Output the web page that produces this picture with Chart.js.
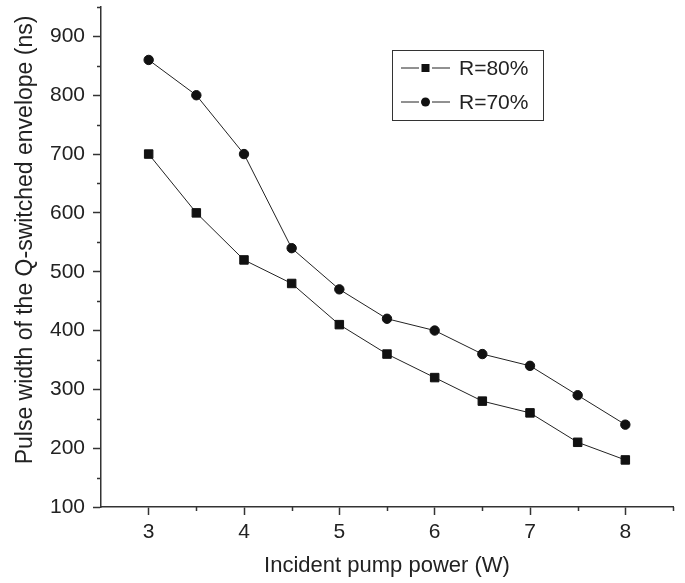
<!DOCTYPE html>
<html><head><meta charset="utf-8">
<script src="https://cdn.jsdelivr.net/npm/chart.js@4"></script>
<style>html,body{margin:0;padding:0;background:#fff}#wrap{width:685px;height:583px;position:relative}</style>
</head><body><div id="wrap"><canvas id="c" width="685" height="583"></canvas></div>
<script>
const pumpPower = [3, 3.5, 4, 4.5, 5, 5.5, 6, 6.5, 7, 7.5, 8];
const r80 = [700, 600, 520, 480, 410, 360, 320, 280, 260, 210, 180];
const r70 = [860, 800, 700, 540, 470, 420, 400, 360, 340, 290, 240];
const seriesLabels = ['R=80%', 'R=70%'];
const xTitle = 'Incident pump power (W)';
const yTitle = 'Pulse width of the Q-switched envelope (ns)';

const FONT = '"Liberation Sans", Arial, sans-serif';
const INK = '#222';

const minorTicks = {
  id: 'minorTicks',
  afterDraw(chart) {
    const ctx = chart.ctx, x = chart.scales.x, y = chart.scales.y;
    ctx.save();
    ctx.strokeStyle = '#333'; ctx.lineWidth = 1.5;
    for (let v = 3.5; v <= 8.5; v += 1) {
      const px = Math.round(x.getPixelForValue(v)) + 0.5;
      ctx.beginPath(); ctx.moveTo(px, y.bottom); ctx.lineTo(px, y.bottom + 4); ctx.stroke();
    }
    for (let v = 150; v <= 950; v += 100) {
      const py = Math.round(y.getPixelForValue(v)) + 0.5;
      ctx.beginPath(); ctx.moveTo(x.left, py); ctx.lineTo(x.left - 4, py); ctx.stroke();
    }
    ctx.restore();
  }
};

const yTitlePlugin = {
  id: 'yTitlePlugin',
  afterDraw(chart) {
    const ctx = chart.ctx;
    ctx.save();
    ctx.translate(26, 240);
    ctx.rotate(-Math.PI / 2);
    ctx.fillStyle = INK; ctx.font = '23px ' + FONT;
    ctx.textAlign = 'center'; ctx.textBaseline = 'middle';
    ctx.fillText(yTitle, 0, 0);
    ctx.restore();
  }
};

const legendBox = {
  id: 'legendBox',
  afterDraw(chart) {
    const ctx = chart.ctx;
    ctx.save();
    ctx.strokeStyle = '#333'; ctx.lineWidth = 1;
    ctx.strokeRect(392.5, 50.5, 151, 70);
    const rows = [68, 102];
    chart.data.datasets.forEach((ds, i) => {
      const yy = rows[i];
      ctx.strokeStyle = INK; ctx.lineWidth = 1;
      ctx.beginPath(); ctx.moveTo(401, yy); ctx.lineTo(419, yy); ctx.moveTo(432, yy); ctx.lineTo(450, yy); ctx.stroke();
      ctx.fillStyle = '#111';
      if (ds.pointStyle === 'rect') { ctx.fillRect(421.5, yy - 4, 8, 8); }
      else { ctx.beginPath(); ctx.arc(425.5, yy, 4.5, 0, Math.PI * 2); ctx.fill(); }
      ctx.fillStyle = INK; ctx.font = '21px ' + FONT; ctx.textBaseline = 'middle'; ctx.textAlign = 'left';
      ctx.fillText(ds.label, 459, yy + 1);
    });
    ctx.restore();
  }
};

new Chart(document.getElementById('c'), {
  type: 'line',
  data: {
    datasets: [
      { label: seriesLabels[0], data: pumpPower.map((p, i) => ({x: p, y: r80[i]})), pointStyle: 'rect', pointRadius: 6, borderColor: INK, backgroundColor: '#111', pointBorderColor: '#111', borderWidth: 1, tension: 0 },
      { label: seriesLabels[1], data: pumpPower.map((p, i) => ({x: p, y: r70[i]})), pointStyle: 'circle', pointRadius: 4.7, borderColor: INK, backgroundColor: '#111', pointBorderColor: '#111', borderWidth: 1, tension: 0 }
    ]
  },
  options: {
    responsive: false, animation: false, devicePixelRatio: 1,
    layout: { padding: { top: 5, right: 12, left: 0, bottom: 0 } },
    plugins: { legend: { display: false }, tooltip: { enabled: false } },
    scales: {
      x: {
        type: 'linear', min: 2.5, max: 8.5,
        afterBuildTicks(s) { s.ticks = [3,4,5,6,7,8].map(v => ({value: v})); },
        afterFit(s) { s.height = 76; s.paddingLeft = 0; s.paddingRight = 0; },
        grid: { drawOnChartArea: false, drawTicks: true, tickLength: 8, tickColor: '#333', tickWidth: 1.5 },
        border: { color: '#333', width: 1.5 },
        ticks: { color: INK, font: { family: FONT, size: 21 }, padding: 5 },
        title: { display: true, text: xTitle, color: INK, font: { family: FONT, size: 22 }, padding: { top: 4 } }
      },
      y: {
        type: 'linear', min: 100, max: 950,
        afterBuildTicks(s) { s.ticks = [100,200,300,400,500,600,700,800,900].map(v => ({value: v})); },
        afterFit(s) { s.width = 101; s.paddingTop = 0; s.paddingBottom = 0; },
        grid: { drawOnChartArea: false, drawTicks: true, tickLength: 8, tickColor: '#333', tickWidth: 1.5 },
        border: { color: '#333', width: 1.5 },
        ticks: { color: INK, font: { family: FONT, size: 21 }, padding: 8 },
        title: { display: false }
      }
    }
  },
  plugins: [minorTicks, legendBox, yTitlePlugin]
});
</script>
</body></html>
